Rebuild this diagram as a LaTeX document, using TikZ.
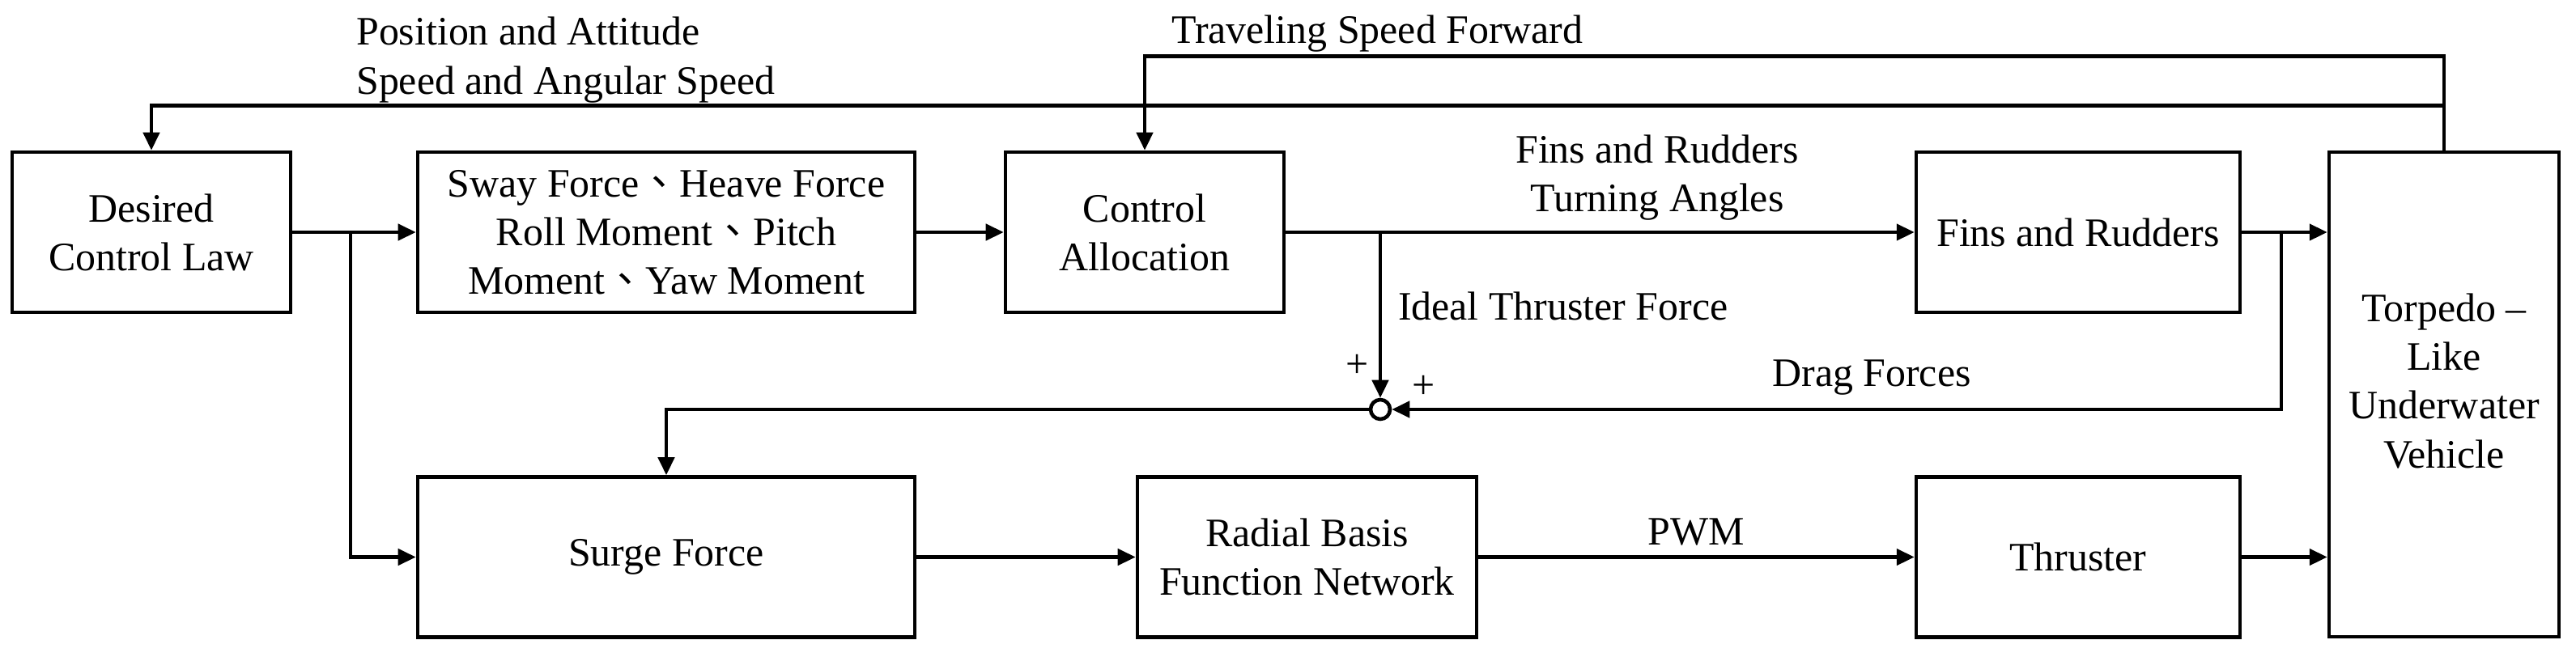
\documentclass[tikz,border=0pt]{standalone}
\usepackage{fontspec}
\setmainfont{Liberation Serif}
\newfontfamily\cjk{Noto Sans CJK TC}
\usepackage{tikz}
\usetikzlibrary{arrows.meta, positioning}

\begin{document}
\begin{tikzpicture}[>={Triangle[length=2.2mm, width=2mm]}, line width=1.3pt,
	font=\fontsize{14.2}{17.1}\selectfont,
	block/.style={draw, rectangle, align=center, inner sep=0pt, minimum height=1.98cm}]
	
	\useasboundingbox (0,0) rectangle (31.82,-8.11);
	
	% Nodes
    \node[block, minimum width=3.44cm] (desired) at (1.87, -2.87) {Desired\\Control Law};
    \node[block, minimum width=6.14cm] (sway) at (8.23, -2.87) {Sway Force{\cjk 、}Heave Force\\Roll Moment{\cjk 、}Pitch\\Moment{\cjk 、}Yaw Moment};
    \node[block, minimum width=3.44cm] (ctrl) at (14.14, -2.87) {Control\\Allocation};
    \node[block, minimum width=4.00cm] (fins) at (25.67, -2.87) {Fins and Rudders};
    \node[block, minimum width=2.84cm, minimum height=5.99cm] (torpedo) at (30.19, -4.875) {};
    	\node (torpedotext) at (30.19, -4.71) [align=center] {Torpedo --\\Like\\Underwater\\Vehicle};

    \node[block, minimum width=6.14cm] (surge) at (8.23, -6.885) {Surge Force};
    \node[block, minimum width=4.19cm] (rbf) at (16.145, -6.885) {Radial Basis\\Function Network};
    \node[block, minimum width=4.00cm] (thruster) at (25.67, -6.885) {Thruster};

    \node[draw, circle, inner sep=0pt, minimum size=0.24cm] (sum) at (17.05, -5.06) {};
    	\node (plusa) at (16.77, -4.52) {+};
    	\node (plusb) at (17.59, -4.78) {+};

    \coordinate (splitlaw) at (4.33, -2.87);
    \coordinate (splitctrl) at (17.05, -2.87);
    \coordinate (splitfins) at (28.18, -2.87);

    % Labels
    \node[anchor=north west, align=left, inner sep=0pt] (poslabel) at (4.38, -0.19) {Position and Attitude\\Speed and Angular Speed};
    \node[anchor=north west, inner sep=0pt] (speedlabel) at (14.45, -0.17) {Traveling Speed Forward};
    \node[align=center] (angleslabel) at (20.47, -2.20) {Fins and Rudders\\Turning Angles};
    \node[anchor=west] (idealbl) at (17.13, -3.78) {Ideal Thruster Force};
    \node (draglabel) at (23.12, -4.67) {Drag Forces};

    % Arrows
    \draw[->] (torpedo.north) -- ++(0, 0.55) -| (desired.north);
    \draw[->] (torpedo.north) -- ++(0, 1.16) -| (ctrl.north);
    \draw[->] (desired) -- (sway);
    \draw[->] (splitlaw) |- (surge.west);
    \draw[->] (sway) -- (ctrl);
    \draw[->] (ctrl) -- (fins);
    \draw[->] (splitctrl) -- (sum.north);
    \draw[->] (fins.east) -- (fins.east -| torpedo.west);
    \draw[->] (splitfins) |- (sum.east);
    \draw[->] (sum.west) -| (surge.north);
    \draw[->] (surge) -- (rbf);
    \draw[->] (rbf) -- node[midway,above] {PWM} (thruster);
    \draw[->] (thruster.east) -- (thruster.east -| torpedo.west);
	
\end{tikzpicture}
\end{document}
